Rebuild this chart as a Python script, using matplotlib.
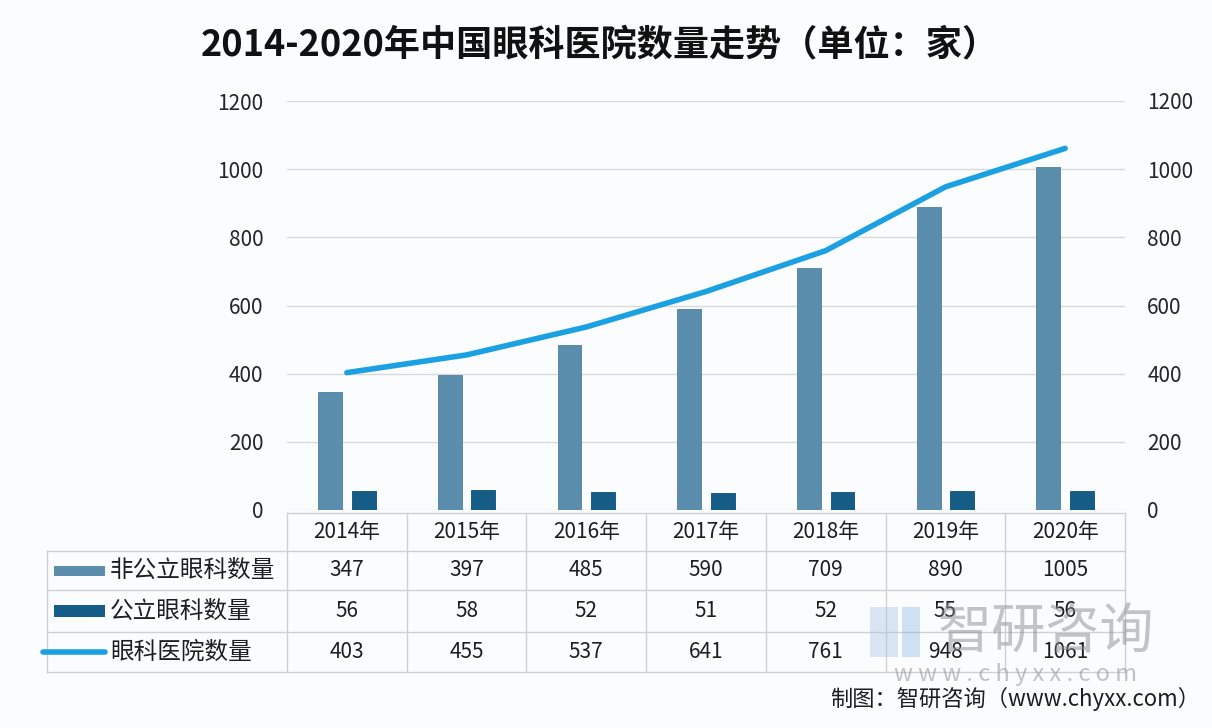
import matplotlib.pyplot as plt
import numpy as np
from matplotlib.transforms import blended_transform_factory
from matplotlib.patches import Rectangle
from matplotlib.lines import Line2D

plt.rcParams['font.family'] = ['Noto Sans CJK SC', 'DejaVu Sans']

years = ['2014年', '2015年', '2016年', '2017年', '2018年', '2019年', '2020年']
non_public = [347, 397, 485, 590, 709, 890, 1005]
public = [56, 58, 52, 51, 52, 55, 56]
total = [403, 455, 537, 641, 761, 948, 1061]
series_names = ['非公立眼科数量', '公立眼科数量', '眼科医院数量']
yticks = [0, 200, 400, 600, 800, 1000, 1200]

c_np = '#5B8DAD'
c_p = '#155C86'
c_line = '#1BA1E2'
c_grid = '#D9D9D9'
c_text = '#1E1E1E'

W, H = 1212, 728
fig = plt.figure(figsize=(W / 100, H / 100), dpi=100, facecolor='#FBFCFE')
ax = fig.add_axes([287 / W, 218 / H, 838 / W, 409 / H])
ax.set_facecolor('none')
x = np.arange(len(years))
ax.bar(x - 0.14, non_public, 0.2, color=c_np, edgecolor='#4D7F9F', linewidth=0.6, zorder=2)
ax.bar(x + 0.14, public, 0.2, color=c_p, edgecolor='#0F4F75', linewidth=0.6, zorder=2)
ax.set_xlim(-0.5, len(years) - 0.5)
ax.set_ylim(0, 1200)
ax.set_yticks(yticks)
ax.set_yticklabels([str(v) for v in yticks])
ax.grid(axis='y', color=c_grid, linewidth=1)
ax.set_axisbelow(True)
for s in ax.spines.values():
    s.set_visible(False)
ax.set_xticks([])
ax.tick_params(axis='y', length=0, labelsize=15, pad=17, labelcolor='#262626')

ax2 = ax.twinx()
ax2.plot(x, total, color=c_line, linewidth=4, solid_capstyle='round', zorder=3)
ax2.set_ylim(0, 1200)
ax2.set_yticks(yticks)
ax2.set_yticklabels([str(v) for v in yticks])
for s in ax2.spines.values():
    s.set_visible(False)
ax2.tick_params(axis='y', length=0, labelsize=15, pad=16, labelcolor='#262626')

# data table under the plot
tr = blended_transform_factory(ax.transData, ax.transAxes)
px = 1 / 409.0
row_edges = [-3 * px, -41 * px, -80 * px, -122 * px, -162 * px]
col_edges = [i - 0.5 for i in range(len(years) + 1)]
cw = 838 / len(years)
leg_left = -0.5 - 240 / cw
lc = '#D0D0D0'

def hline(x0, x1, y):
    ax.add_line(Line2D([x0, x1], [y, y], transform=tr, color=lc, lw=1, clip_on=False))

def vline(xx, y0, y1):
    ax.add_line(Line2D([xx, xx], [y0, y1], transform=tr, color=lc, lw=1, clip_on=False))

hline(col_edges[0], col_edges[-1], row_edges[0])
for y in row_edges[1:]:
    hline(leg_left, col_edges[-1], y)
for xx in col_edges:
    vline(xx, row_edges[0], row_edges[-1])
vline(leg_left, row_edges[1], row_edges[-1])

fs = 15
for i, yr in enumerate(years):
    ax.text(i, (row_edges[0] + row_edges[1]) / 2, yr, transform=tr, ha='center', va='center',
            fontsize=fs, color=c_text)
for r, vals in enumerate([non_public, public, total]):
    yc = (row_edges[r + 1] + row_edges[r + 2]) / 2
    for i, v in enumerate(vals):
        ax.text(i, yc, str(v), transform=tr, ha='center', va='center', fontsize=fs, color=c_text,
                zorder=5)

key_x0 = leg_left + 7 / cw
key_x1 = leg_left + 58 / cw
txt_x = leg_left + 63 / cw
for r, name in enumerate(series_names):
    yc = (row_edges[r + 1] + row_edges[r + 2]) / 2
    if r == 0:
        ax.add_patch(Rectangle((key_x0, yc - 5 * px), key_x1 - key_x0, 10 * px, transform=tr,
                               facecolor=c_np, edgecolor='none', clip_on=False))
    elif r == 1:
        ax.add_patch(Rectangle((key_x0, yc - 6 * px), key_x1 - key_x0, 12 * px, transform=tr,
                               facecolor=c_p, edgecolor='none', clip_on=False))
    else:
        ax.add_line(Line2D([leg_left - 4 / cw, key_x1], [yc, yc], transform=tr, color=c_line,
                           lw=4, solid_capstyle='round', clip_on=False))
    ax.text(txt_x, yc, name, transform=tr, ha='left', va='center', fontsize=17, color=c_text)

# title
fig.text(0.495, 1 - 45 / H, '2014-2020年中国眼科医院数量走势（单位：家）', ha='center', va='center',
         fontsize=26, fontweight='bold', color='#111111')

# watermark
fig.text(938 / W, 1 - 633 / H, '智研咨询', ha='left', va='center', fontsize=39, color='#8C8C8C',
         alpha=0.5, fontweight='light')
fig.text(1016 / W, 1 - 674 / H, 'w w w . c h y x x . c o m', ha='center', va='center', fontsize=17,
         color='#9A9A9A', alpha=0.6)
fig.patches.append(Rectangle((870 / W, 1 - 657 / H), 28 / W, 50 / H, transform=fig.transFigure,
                             facecolor='#A8C4E0', edgecolor='none', alpha=0.4))
fig.patches.append(Rectangle((902 / W, 1 - 657 / H), 18 / W, 50 / H, transform=fig.transFigure,
                             facecolor='#8FB6E0', edgecolor='none', alpha=0.4))

# source
fig.text(1200 / W, 1 - 699 / H, '制图：智研咨询（www.chyxx.com）', ha='right', va='center',
         fontsize=16, color=c_text)

fig.savefig('out.png', dpi=100, facecolor=fig.get_facecolor())
